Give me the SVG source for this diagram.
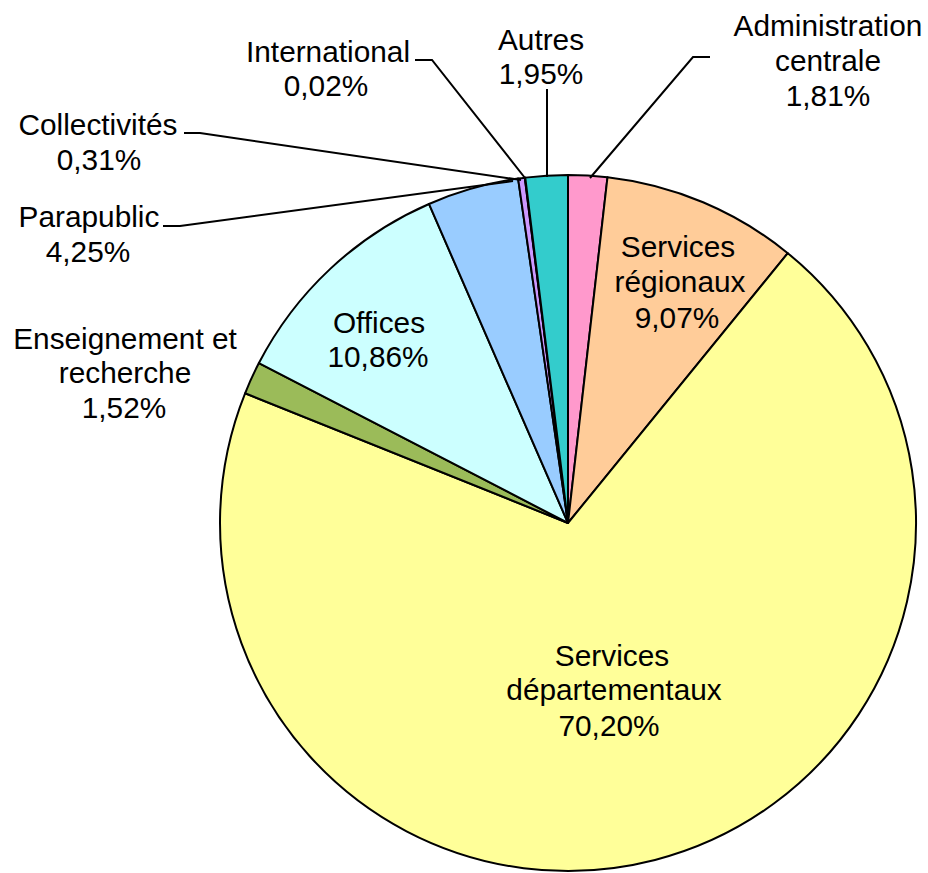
<svg xmlns="http://www.w3.org/2000/svg" width="928" height="873" viewBox="0 0 928 873">
<style>
.s{stroke:#000;stroke-width:2;stroke-linejoin:round}
.l{fill:none;stroke:#000;stroke-width:2}
text{font-family:"Liberation Sans",Arial,sans-serif;font-size:29.8px;fill:#000;text-anchor:middle}
</style>
<rect width="928" height="873" fill="#fff"/>
<g id="slices">
<g id="admin"><path class="s" fill="#FF99CC" d="M568,523 L568,175 A348,348 0 0 1 607.49,177.25 Z"/></g>
<g id="regionaux"><path class="s" fill="#FFCC99" d="M568,523 L607.49,177.25 A348,348 0 0 1 787.77,253.17 Z"/></g>
<g id="departementaux"><path class="s" fill="#FFFF99" d="M568,523 L787.77,253.17 A348,348 0 1 1 245.10,393.26 Z"/></g>
<g id="enseignement"><path class="s" fill="#9BBB59" d="M568,523 L245.10,393.26 A348,348 0 0 1 258.91,363.06 Z"/></g>
<g id="offices"><path class="s" fill="#CCFFFF" d="M568,523 L258.91,363.06 A348,348 0 0 1 428.98,203.97 Z"/></g>
<g id="parapublic"><path class="s" fill="#99CCFF" d="M568,523 L428.98,203.97 A348,348 0 0 1 518.10,178.59 Z"/></g>
<g id="collectivites"><path class="s" fill="#CC99FF" d="M568,523 L518.10,178.59 A348,348 0 0 1 524.82,177.69 Z"/></g>
<g id="international"><path class="s" fill="#CC99FF" d="M568,523 L524.82,177.69 A348,348 0 0 1 525.25,177.63 Z"/></g>
<g id="autres"><path class="s" fill="#33CCCC" d="M568,523 L525.25,177.63 A348,348 0 0 1 568,175 Z"/></g>
</g>
<g id="connectors">
<polyline class="l" points="710,57 693,57 590,178"/>
<polyline class="l" points="547,89 547,177"/>
<polyline class="l" points="415,60 432,60 525,178"/>
<polyline class="l" points="184,133 200,133 521,180"/>
<polyline class="l" points="163,226 180,226 513,181"/>
</g>
<g id="labels">
<g id="lbl-admin"><text x="828" y="36">Administration</text><text x="828" y="71">centrale</text><text x="828" y="106">1,81%</text></g>
<g id="lbl-autres"><text x="541" y="50">Autres</text><text x="541" y="84">1,95%</text></g>
<g id="lbl-international"><text x="328" y="62">International</text><text x="326" y="96">0,02%</text></g>
<g id="lbl-collectivites"><text x="98" y="135">Collectivités</text><text x="99" y="170">0,31%</text></g>
<g id="lbl-parapublic"><text x="89" y="227">Parapublic</text><text x="88" y="262">4,25%</text></g>
<g id="lbl-enseignement"><text x="125" y="349">Enseignement et</text><text x="125" y="383">recherche</text><text x="124" y="418">1,52%</text></g>
<g id="lbl-offices"><text x="379" y="333">Offices</text><text x="378" y="367">10,86%</text></g>
<g id="lbl-regionaux"><text x="678" y="257">Services</text><text x="680" y="292">régionaux</text><text x="677" y="328">9,07%</text></g>
<g id="lbl-departementaux"><text x="612" y="666">Services</text><text x="614" y="700">départementaux</text><text x="609" y="736">70,20%</text></g>
</g>
</svg>
